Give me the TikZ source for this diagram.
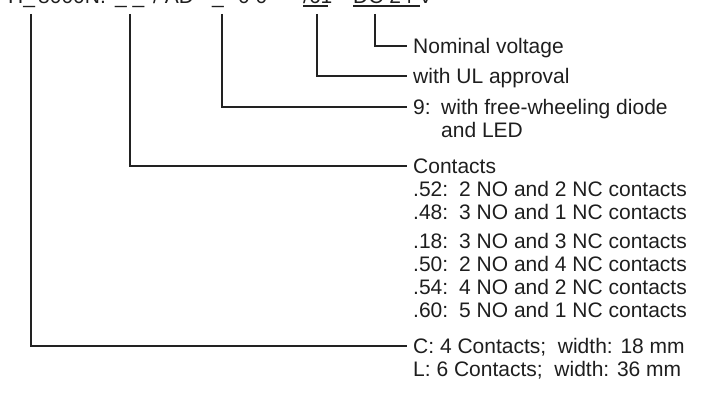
\documentclass[tikz,border=0pt]{standalone}
\usepackage{fontspec}
\setmainfont{Liberation Sans}
\begin{document}
\begin{tikzpicture}[x=1pt,y=-1pt,
  lbl/.style={inner sep=0pt,anchor=base west,text=txt,font=\fontsize{21}{23}\selectfont},
  conn/.style={draw=ln,line width=1.2pt}]
\definecolor{txt}{HTML}{1E1E1E}
\definecolor{ln}{HTML}{222222}
\useasboundingbox (0,0) rectangle (702,398);
% top code line (clipped at top)
\node[lbl] (h1) at (8,4) {H\_};
\node[lbl] (h2) at (38,4) {8000N.};
\node[lbl] (h3) at (115,4) {\_ \_};
\node[lbl] (h4) at (153,4) {/ AD};
\node[lbl] (h5) at (212,4) {\_};
\node[lbl] (h6) at (238,4) {0 0};
\node[lbl] (h7) at (303,4) {/61};
\node[lbl] (h8) at (353,4) {DC 24 V};
\draw[conn] (h7.base west)++(0,2) -- ++(25,0);
\draw[conn] (h8.base west)++(0,2) -- ++(67,0);
% top ends of connectors
\coordinate (t1) at (31,14);
\coordinate (t2) at (130,14);
\coordinate (t3) at (222,14);
\coordinate (t4) at (317,14);
\coordinate (t5) at (375,14);
% line ends
\coordinate (e5) at (407,46);
\coordinate (e4) at (407,76);
\coordinate (e3) at (407,107);
\coordinate (e2) at (407,166);
\coordinate (e1) at (407,346);
% labels
\node[lbl] (nv) at (413,53.5) {Nominal voltage};
\node[lbl] (ul) at (413,83.5) {with UL approval};
\node[lbl] (d9) at (413,114.5) {9:};
\node[lbl] (d9t) at (441,114.5) {with free-wheeling diode};
\node[lbl] (d9b) at (441,138) {and LED};
\node[lbl] (ct) at (413,173.5) {Contacts};
\node[lbl] (k1) at (413,196.5) {.52:};
\node[lbl] (k1t) at (459,196.5) {2 NO and 2 NC contacts};
\node[lbl] (k2) at (413,219.5) {.48:};
\node[lbl] (k2t) at (459,219.5) {3 NO and 1 NC contacts};
\node[lbl] (k3) at (413,249) {.18:};
\node[lbl] (k3t) at (459,249) {3 NO and 3 NC contacts};
\node[lbl] (k4) at (413,272) {.50:};
\node[lbl] (k4t) at (459,272) {2 NO and 4 NC contacts};
\node[lbl] (k5) at (413,295) {.54:};
\node[lbl] (k5t) at (459,295) {4 NO and 2 NC contacts};
\node[lbl] (k6) at (413,318) {.60:};
\node[lbl] (k6t) at (459,318) {5 NO and 1 NC contacts};
\node[lbl] (w1) at (413,353.5) {C: 4 Contacts;\ \ width: 18 mm};
\node[lbl] (w2) at (413,376.5) {L: 6 Contacts;\ \ width: 36 mm};
% connectors
\draw[conn] (t5) |- (e5);
\draw[conn] (t4) |- (e4);
\draw[conn] (t3) |- (e3);
\draw[conn] (t2) |- (e2);
\draw[conn] (t1) |- (e1);
\end{tikzpicture}
\end{document}
